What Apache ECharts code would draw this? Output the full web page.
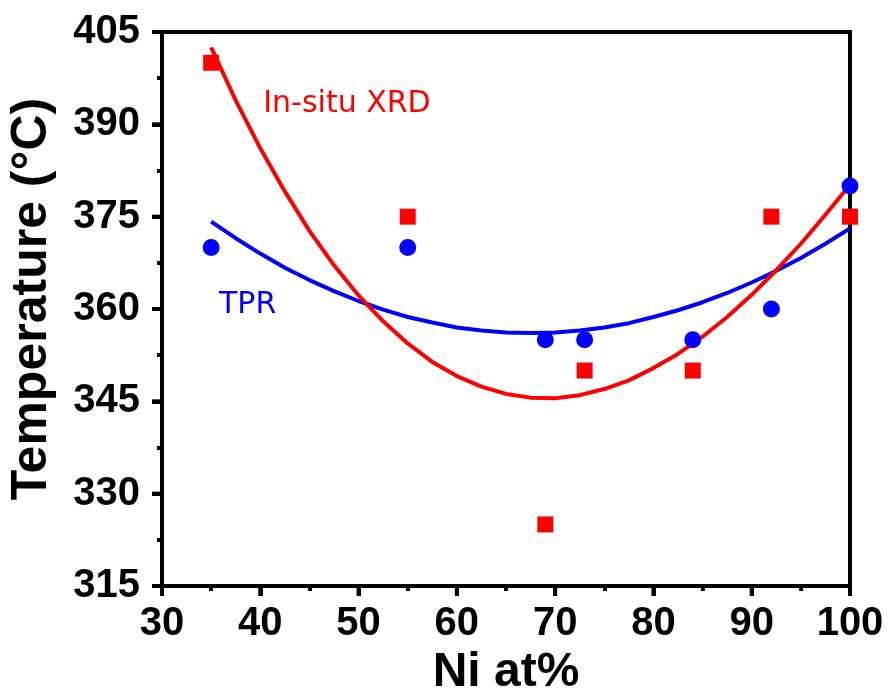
<!DOCTYPE html>
<html><head><meta charset="utf-8">
<script src="https://cdn.jsdelivr.net/npm/echarts@6/dist/echarts.min.js"></script>
<style>html,body{margin:0;padding:0;background:#fff}#c{width:889px;height:689px}</style>
</head><body><div id="c"></div>
<script>
// Data
const niAt = [35, 55, 69, 73, 84, 92, 100];
const xrdTemp = [400, 375, 325, 350, 350, 375, 375];
const tprTemp = [370, 370, 355, 355, 355, 360, 380];
// Fit curves
const fitX = [35,37.5,40,42.5,45,47.5,50,52.5,55,57.5,60,62.5,65,67.5,70,72.5,75,77.5,80,82.5,85,87.5,90,92.5,95,97.5,100];
const xrdFit = [402.5,393.9,386.1,379.1,372.7,367.1,362.2,358.0,354.4,351.4,349.1,347.4,346.2,345.6,345.5,346.0,347.0,348.4,350.4,352.7,355.5,358.7,362.3,366.3,370.6,375.3,380.2];
const tprFit = [374.2,371.5,369.0,366.7,364.7,362.9,361.3,359.9,358.7,357.8,357.0,356.5,356.2,356.1,356.2,356.5,357.0,357.7,358.7,359.8,361.1,362.6,364.3,366.2,368.3,370.6,373.1];
const xTicks = {min: 30, max: 100, interval: 10};
const yTicks = {min: 315, max: 405, interval: 15};
const xTickVals = [30, 40, 50, 60, 70, 80, 90, 100];
const yTickVals = [315, 330, 345, 360, 375, 390, 405];

const zip = (xs, ys) => xs.map((x, i) => [x, ys[i]]);
const lblFont = {fontFamily: 'Liberation Sans, Arial, sans-serif', fontWeight: 'bold', fontSize: 40, color: '#000'};
const majorTick = () => ({show: true, length: 10, lineStyle: {color: '#000', width: 4}});
const minorTickOpt = () => ({show: true, splitNumber: 2, length: 5, lineStyle: {color: '#000', width: 4}});

const chart = echarts.init(document.getElementById('c'), null, {renderer: 'canvas'});
chart.setOption({
  animation: false,
  backgroundColor: '#fff',
  grid: {left: 162, right: 39, top: 32, bottom: 103, outerBoundsMode: 'none',
         show: true, borderColor: '#000', borderWidth: 4, backgroundColor: 'transparent'},
  xAxis: {
    type: 'value', position: 'bottom', min: xTicks.min, max: xTicks.max, interval: xTicks.interval,
    name: 'Ni at%', nameLocation: 'middle', nameGap: 59,
    nameTextStyle: {fontFamily: 'Liberation Sans, Arial, sans-serif', fontWeight: 'bold', fontSize: 48, color: '#000'},
    axisLine: {show: true, onZero: false, lineStyle: {color: '#000', width: 4}},
    axisTick: majorTick(), minorTick: minorTickOpt(),
    axisLabel: {margin: 18, ...lblFont},
    splitLine: {show: false}, minorSplitLine: {show: false}
  },
  yAxis: {
    type: 'value', position: 'left', min: yTicks.min, max: yTicks.max, interval: yTicks.interval,
    name: 'Temperature (°C)', nameLocation: 'middle', nameGap: 105,
    nameTextStyle: {fontFamily: 'Liberation Sans, Arial, sans-serif', fontWeight: 'bold', fontSize: 50, color: '#000', padding: [0, 0, 0, 20]},
    axisLine: {show: true, onZero: false, lineStyle: {color: '#000', width: 4}},
    axisTick: majorTick(), minorTick: minorTickOpt(),
    axisLabel: {margin: 22, ...lblFont},
    splitLine: {show: false}, minorSplitLine: {show: false}
  },
  series: [
    {type: 'line', name: 'TPR fit', data: zip(fitX, tprFit), smooth: false, showSymbol: false, symbol: 'none',
     lineStyle: {color: '#0000FF', width: 4, join: 'round'}, z: 2},
    {type: 'line', name: 'XRD fit', data: zip(fitX, xrdFit), smooth: false, showSymbol: false, symbol: 'none',
     lineStyle: {color: '#FF0000', width: 4, join: 'round'}, z: 3},
    {type: 'scatter', name: 'TPR', data: zip(niAt, tprTemp), symbol: 'circle', symbolSize: 17,
     itemStyle: {color: '#0000FF', opacity: 1}, clip: true, z: 4},
    {type: 'scatter', name: 'In-situ XRD', data: zip(niAt, xrdTemp), symbol: 'rect', symbolSize: 16,
     itemStyle: {color: '#FF0000', opacity: 1}, clip: true, z: 4}
  ]
});

// major ticks placed through the axis scales
const toPx = v => chart.convertToPixel({gridIndex: 0}, v);
const axisX = toPx([xTicks.min, yTicks.min])[0];
const axisY = toPx([xTicks.min, yTicks.min])[1];
const tickGraphics = [];
xTickVals.forEach(v => {
  const px = toPx([v, yTicks.min])[0];
  tickGraphics.push({type: 'line', z: 100, shape: {x1: px, y1: axisY, x2: px, y2: axisY + 10}, style: {stroke: '#000', lineWidth: 4}});
});
yTickVals.forEach(v => {
  const py = toPx([xTicks.min, v])[1];
  tickGraphics.push({type: 'line', z: 100, shape: {x1: axisX, y1: py, x2: axisX - 10, y2: py}, style: {stroke: '#000', lineWidth: 4}});
});

// annotations anchored in data coordinates
const pXRD = toPx([40.3, 390.9]);
const pTPR = toPx([35.8, 358.2]);
chart.setOption({
  graphic: tickGraphics.concat([
    {type: 'text', x: pXRD[0], y: pXRD[1], style: {text: 'In-situ XRD', fill: '#FF0000', font: '30px "DejaVu Sans", sans-serif', textVerticalAlign: 'bottom'}},
    {type: 'text', x: pTPR[0], y: pTPR[1], style: {text: 'TPR', fill: '#0000FF', font: '30px "DejaVu Sans", sans-serif', textVerticalAlign: 'bottom'}}
  ])
});
</script></body></html>
